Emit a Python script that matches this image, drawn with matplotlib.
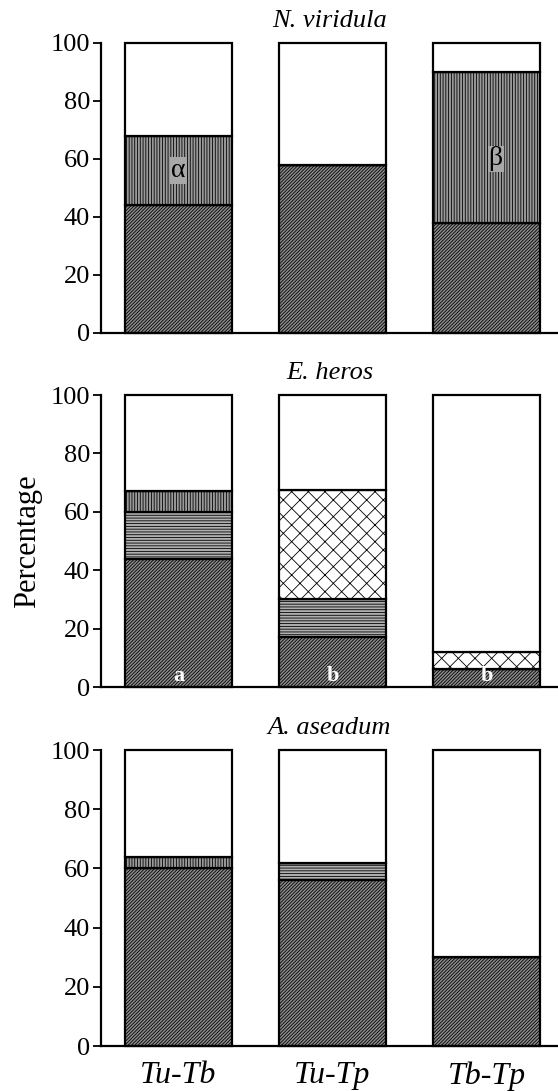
#!/usr/bin/env python3

"""Stacked percentage bars for three stink bug species (recreated figure)."""

import matplotlib

matplotlib.use("Agg")

import matplotlib.pyplot as plt
import numpy as np

plt.rcParams["font.family"] = ["Liberation Serif", "DejaVu Serif"]
plt.rcParams["hatch.linewidth"] = 0.6

pairs = ["Tu-Tb", "Tu-Tp", "Tb-Tp"]
species = ["N. viridula", "E. heros", "A. aseadum"]

# segment heights (percent), bottom to top; white remainder fills to 100
dotted = {
    "N. viridula": [44, 58, 38],
    "E. heros": [44, 17, 6],
    "A. aseadum": [60, 56, 30],
}
horizontal = {
    "N. viridula": [0, 0, 0],
    "E. heros": [16, 13, 0],
    "A. aseadum": [0, 6, 0],
}
vertical = {
    "N. viridula": [24, 0, 52],
    "E. heros": [7, 0, 0],
    "A. aseadum": [4, 0, 0],
}
crossed = {
    "N. viridula": [0, 0, 0],
    "E. heros": [0, 37.5, 6],
    "A. aseadum": [0, 0, 0],
}

# letters drawn on the bars
greek = ["\u03b1", "", "\u03b2"]
greek_y = [56, 0, 60]
letters = ["a", "b", "b"]

# axes boxes in figure fraction: left, bottom, width, height
boxes = [
    [0.181, 0.6948, 0.819, 0.2658],
    [0.181, 0.3703, 0.819, 0.2676],
    [0.181, 0.0412, 0.819, 0.2713],
]

styles = [
    ("dotted", "#8c8c8c", "//////////"),
    ("horizontal", "#b0b0b0", "------"),
    ("vertical", "#9a9a9a", "||||||"),
    ("crossed", "white", "xx"),
]

fig = plt.figure(figsize=(5.58, 10.91), dpi=100)
x = np.arange(len(pairs))
width = 0.695

for i, sp in enumerate(species):
    ax = fig.add_axes(boxes[i])
    series = {
        "dotted": dotted[sp],
        "horizontal": horizontal[sp],
        "vertical": vertical[sp],
        "crossed": crossed[sp],
    }
    bottom = np.zeros(len(pairs))
    for name, face, hatch in styles:
        vals = np.array(series[name], dtype=float)
        ax.bar(x, vals, width, bottom=bottom, color=face, hatch=hatch,
               edgecolor="black", linewidth=1.6, clip_on=False, zorder=2)
        bottom += vals
    ax.bar(x, 100 - bottom, width, bottom=bottom, color="white",
           edgecolor="black", linewidth=1.6, clip_on=False, zorder=2)

    if sp == "N. viridula":
        for j, g in enumerate(greek):
            if g:
                ax.text(x[j] + (0.06 if j == 2 else 0), greek_y[j], g,
                        ha="center", va="center", fontsize=20,
                        color="black", zorder=4,
                        bbox=dict(facecolor="#a8a8a8", edgecolor="none", pad=0.5))
    if sp == "E. heros":
        for j, t in enumerate(letters):
            ax.text(x[j], 0.5, t, ha="center", va="bottom", fontsize=16,
                    fontweight="bold", color="white", zorder=4)

    ax.set_xlim(-0.503, 2.464)
    ax.set_ylim(0, 100)
    ax.set_yticks([0, 20, 40, 60, 80, 100])
    ax.tick_params(axis="y", labelsize=19, length=6, width=1.3, pad=2,
                   direction="out")
    ax.spines["top"].set_visible(False)
    ax.spines["right"].set_visible(False)
    ax.spines["left"].set_linewidth(1.6)
    ax.spines["bottom"].set_linewidth(1.6)
    ax.text(0.5, 1.055, sp, transform=ax.transAxes, ha="center",
            va="baseline", fontsize=19, style="italic")

    if i == len(species) - 1:
        ax.set_xticks(x)
        ax.set_xticklabels(pairs, fontsize=23, style="italic")
        ax.tick_params(axis="x", length=0, pad=11)
    else:
        ax.set_xticks([])
    if i == 1:
        ax.set_ylabel("Percentage", fontsize=22, labelpad=6)

fig.savefig("out.png", dpi=100)
